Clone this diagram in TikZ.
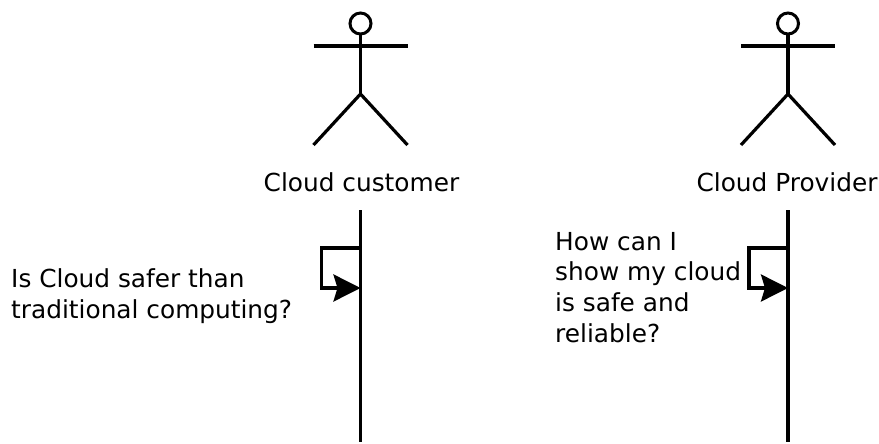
\documentclass[tikz,border=0pt]{standalone}
\usepackage{fontspec}
\setmainfont{DejaVu Sans}
\usetikzlibrary{arrows.meta}
\begin{document}
\begin{tikzpicture}[x=1pt,y=-1pt,
  lbl/.style={inner sep=0pt,font=\fontsize{24.8}{30.8}\selectfont,align=left},
  stick/.style={line width=3.2pt,black},
  life/.style={line width=3.2pt,black},
  selfloop/.style={line width=3.2pt,black,-{Stealth[length=27pt,width=27pt,inset=4pt]}}]
\useasboundingbox (0,0) rectangle (879,444);
\fill[white] (0,0) rectangle (879,444);
\foreach \n/\x in {a/360.5,b/788}{
  \node[circle,draw,line width=3pt,minimum size=21pt,inner sep=0pt] (head\n) at (\x,23.5) {};
  \coordinate (hip\n) at (\x,94);
  \coordinate (armL\n) at (\x-47,46);
  \coordinate (armR\n) at (\x+47,46);
  \coordinate (legL\n) at (\x-47,145);
  \coordinate (legR\n) at (\x+47,145);
  \coordinate (top\n) at (\x,210);
  \coordinate (bot\n) at (\x,442);
  \coordinate (lA\n) at (\x,248);
  \coordinate (lB\n) at (\x-39,248);
  \coordinate (lC\n) at (\x-39,288);
  \coordinate (lD\n) at (\x,288);
  \draw[stick] (head\n.south) -- (hip\n);
  \draw[stick] (armL\n) -- (armR\n);
  \draw[stick] (legL\n) -- (hip\n) -- (legR\n);
  \draw[life] (top\n) -- (bot\n);
  \draw[selfloop] (lA\n) -- (lB\n) -- (lC\n) -- (lD\n);
}
\node[lbl,anchor=center] (c1) at (361.5,182) {Cloud customer};
\node[lbl,anchor=center] (c2) at (787,182) {Cloud Provider};
\node[lbl,anchor=west] (q1) at (11,296.5) {Is Cloud safer than\\traditional computing?};
\node[lbl,anchor=west] (q2) at (555,287.5) {How can I\\show my cloud\\is safe and\\reliable?};
\end{tikzpicture}
\end{document}
